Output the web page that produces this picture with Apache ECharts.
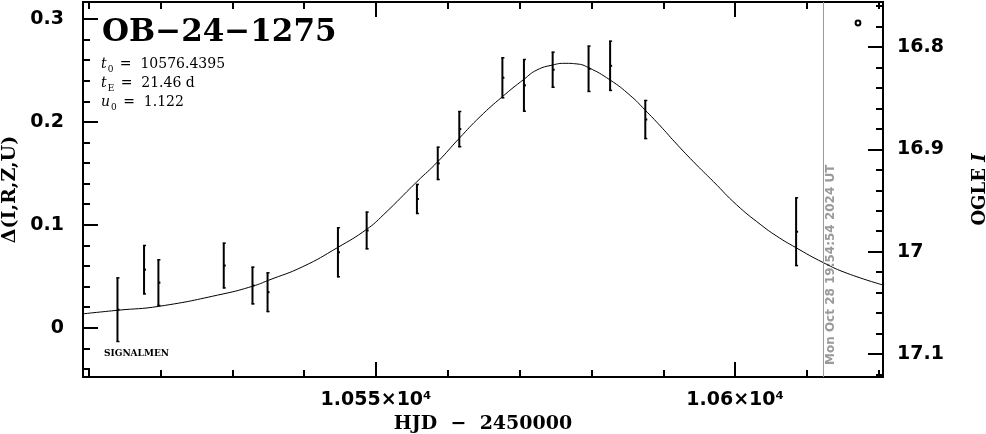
<!DOCTYPE html>
<html><head><meta charset="utf-8">
<script src="https://cdn.jsdelivr.net/npm/echarts@6/dist/echarts.min.js"></script>
<style>html,body{margin:0;padding:0;background:#fff}#c{width:986px;height:434px}</style>
</head><body><div id="c"></div>
<script>
// ---- data ----
const obsHJD   = [10514.0, 10517.7, 10519.7, 10528.8, 10532.8, 10534.9, 10544.7, 10548.7, 10555.7, 10558.6, 10561.6, 10567.6, 10570.6, 10574.6, 10579.6, 10582.6, 10587.5, 10608.5];
const obsDelta = [0.0175, 0.0564, 0.0438, 0.0604, 0.0410, 0.0345, 0.0733, 0.0945, 0.1251, 0.1597, 0.1930, 0.2429, 0.2355, 0.2507, 0.2516, 0.2545, 0.2023, 0.0933];
const obsErr   = [0.0314, 0.0240, 0.0227, 0.0222, 0.0183, 0.0193, 0.0243, 0.0183, 0.0146, 0.0162, 0.0176, 0.0199, 0.0256, 0.0175, 0.0225, 0.0244, 0.0190, 0.0334];

const modelHJD   = [10509.2, 10514.1, 10519.8, 10528.7, 10532.9, 10535.0, 10539.8, 10544.7, 10548.7, 10551.0, 10555.7, 10558.6, 10561.6, 10564.5, 10567.6, 10570.6, 10572.4, 10574.6, 10576.3, 10578.0, 10579.6, 10582.6, 10585.4, 10587.5, 10589.6, 10591.6, 10594.2, 10597.0, 10600.2, 10603.5, 10605.8, 10608.4, 10612.3, 10615.6, 10620.6];
const modelDelta = [0.0135, 0.0170, 0.0208, 0.0328, 0.0405, 0.0460, 0.0593, 0.0781, 0.0956, 0.1095, 0.1419, 0.1613, 0.1841, 0.2051, 0.2245, 0.2414, 0.2504, 0.2553, 0.2569, 0.2563, 0.2527, 0.2407, 0.2257, 0.2113, 0.1960, 0.1805, 0.1613, 0.1419, 0.1195, 0.1005, 0.0890, 0.0781, 0.0632, 0.0529, 0.0415];

const nowHJD = 10612.33;
const nowStamp = 'Mon Oct 28 19:54:54 2024 UT';

const xMajorTicks = [10550, 10600];
const xTickLabels = ['1.055×10⁴', '1.06×10⁴'];
const xMinorTicks = [10510, 10520, 10530, 10540, 10550, 10560, 10570, 10580, 10590, 10600, 10610, 10620];

const yLeftMajor  = [0, 0.1, 0.2, 0.3];
const yLeftLabels = ['0', '0.1', '0.2', '0.3'];
const yLeftMinor  = [-0.04, -0.02, 0, 0.02, 0.04, 0.06, 0.08, 0.1, 0.12, 0.14, 0.16, 0.18, 0.2, 0.22, 0.24, 0.26, 0.28, 0.3];

const yRightMajor  = [16.8, 16.9, 17.0, 17.1];
const yRightLabels = ['16.8', '16.9', '17', '17.1'];
const yRightMinor  = [16.76, 16.78, 16.8, 16.82, 16.84, 16.86, 16.88, 16.9, 16.92, 16.94, 16.96, 16.98, 17.0, 17.02, 17.04, 17.06, 17.08, 17.1, 17.12];

const eventName = 'OB−24−1275';
const paramT0 = '10576.4395';
const paramTE = '21.46 d';
const paramU0 = '1.122';
const sourceTag = 'SIGNALMEN';

// ---- chart ----
const X_MIN = 10509.2, X_MAX = 10620.6;
const YL_MIN = -0.0479, YL_MAX = 0.3165;
const YR_MIN = 16.756, YR_MAX = 17.1225;

const lineBlack = {show: true, onZero: false, lineStyle: {color: '#000', width: 2}};
const tickFont = {fontFamily: 'DejaVu Sans', fontWeight: 'bold', fontSize: 19, color: '#000'};
function pick(vals, labels) {
  return v => { let b = 0; vals.forEach((t, i) => { if (Math.abs(t - v) < Math.abs(vals[b] - v)) b = i; }); return labels[b]; };
}
function xAx(grid, pos, ticks, len, extra) {
  return Object.assign({
    type: 'value', gridIndex: grid, position: pos, min: X_MIN, max: X_MAX,
    axisLine: lineBlack, splitLine: {show: false},
    axisTick: {show: true, inside: true, length: len, lineStyle: {color: '#000', width: 2}, customValues: ticks},
    axisLabel: {show: false}
  }, extra || {});
}
function yAx(grid, pos, min, max, inv, ticks, len, extra) {
  return Object.assign({
    type: 'value', gridIndex: grid, position: pos, min: min, max: max, inverse: inv,
    axisLine: lineBlack, splitLine: {show: false},
    axisTick: {show: true, inside: true, length: len, lineStyle: {color: '#000', width: 2}, customValues: ticks},
    axisLabel: {show: false}
  }, extra || {});
}

const chart = echarts.init(document.getElementById('c'));
const gridRect = {left: 83, right: 103, top: 2, bottom: 57, containLabel: false, outerBoundsMode: 'none'};

chart.setOption({
  animation: false,
  backgroundColor: '#fff',
  grid: [Object.assign({}, gridRect), Object.assign({}, gridRect)],
  xAxis: [
    xAx(0, 'bottom', xMajorTicks, 15, {
      axisLabel: Object.assign({show: true, margin: 14, customValues: xMajorTicks, formatter: pick(xMajorTicks, xTickLabels)}, tickFont),
      name: 'HJD  −  2450000', nameLocation: 'middle', nameGap: 37,
      nameTextStyle: {fontFamily: 'DejaVu Serif', fontWeight: 'bold', fontSize: 19, color: '#000'}
    }),
    xAx(0, 'top', xMajorTicks, 15),
    xAx(1, 'bottom', xMinorTicks, 7),
    xAx(1, 'top', xMinorTicks, 7)
  ],
  yAxis: [
    yAx(0, 'left', YL_MIN, YL_MAX, false, yLeftMajor, 15, {
      axisLabel: Object.assign({show: true, margin: 19, customValues: yLeftMajor, formatter: pick(yLeftMajor, yLeftLabels)}, tickFont),
      name: 'Δ(I,R,Z,U)', nameLocation: 'middle', nameGap: 54, nameRotate: 90,
      nameTextStyle: {fontFamily: 'DejaVu Serif', fontWeight: 'bold', fontSize: 19, color: '#000'}
    }),
    yAx(0, 'right', YR_MIN, YR_MAX, true, yRightMajor, 15, {
      axisLabel: Object.assign({show: true, margin: 14, customValues: yRightMajor, formatter: pick(yRightMajor, yRightLabels)}, tickFont),
      name: '{n|OGLE }{i|I}', nameLocation: 'middle', nameGap: 88, nameRotate: 90,
      nameTextStyle: {
        rich: {
          n: {fontFamily: 'DejaVu Serif', fontWeight: 'bold', fontSize: 18, color: '#000'},
          i: {fontFamily: 'DejaVu Serif', fontWeight: 'bold', fontStyle: 'italic', fontSize: 18, color: '#000'}
        }
      }
    }),
    yAx(1, 'left', YL_MIN, YL_MAX, false, yLeftMinor, 7),
    yAx(1, 'right', YR_MIN, YR_MAX, true, yRightMinor, 7)
  ],
  series: [
    {
      type: 'line', xAxisIndex: 0, yAxisIndex: 0,
      data: modelHJD.map((t, i) => [t, modelDelta[i]]),
      showSymbol: false, smooth: 0.5, silent: true,
      lineStyle: {color: '#000', width: 1},
      markLine: {
        silent: true, symbol: ['none', 'none'], animation: false,
        lineStyle: {color: '#9a9a9a', width: 1, type: 'solid'},
        label: {show: false},
        data: [{xAxis: nowHJD}]
      }
    },
    {
      type: 'custom', xAxisIndex: 0, yAxisIndex: 0, silent: true,
      data: obsHJD.map((t, i) => [t, obsDelta[i], obsErr[i]]),
      renderItem: function (params, api) {
        const x = api.value(0), y = api.value(1), e = api.value(2);
        const top = api.coord([x, y + e]), bot = api.coord([x, y - e]), mid = api.coord([x, y]);
        const st = {stroke: '#000', lineWidth: 2};
        const cs = {stroke: '#000', lineWidth: 1.5};
        return {type: 'group', children: [
          {type: 'line', shape: {x1: top[0], y1: top[1], x2: bot[0], y2: bot[1]}, style: st},
          {type: 'line', shape: {x1: top[0] - 1, y1: top[1] + 0.5, x2: top[0] + 2, y2: top[1] + 0.5}, style: cs},
          {type: 'line', shape: {x1: bot[0] - 1, y1: bot[1] - 0.5, x2: bot[0] + 2, y2: bot[1] - 0.5}, style: cs},
          {type: 'rect', shape: {x: mid[0], y: mid[1] - 1, width: 2, height: 2}, style: {fill: '#000'}}
        ]};
      }
    }
  ],
  graphic: [
    {type: 'text', left: 102, top: 17, style: {text: eventName, font: 'bold 31px "DejaVu Serif"', fill: '#000'}},
    {type: 'text', left: 101, top: 55, style: {
      text: '{i|t}{s|0} =  ' + paramT0 + '\n{i|t}{s|E} =  ' + paramTE + '\n{i|u}{s|0} =  ' + paramU0,
      font: '14px "DejaVu Serif"', fill: '#000', lineHeight: 19,
      rich: {
        i: {fontFamily: 'DejaVu Serif', fontStyle: 'italic', fontSize: 14, lineHeight: 19},
        s: {fontFamily: 'DejaVu Serif', fontSize: 9, lineHeight: 12, verticalAlign: 'bottom', padding: [0, 2, 0, 1]}
      }
    }},
    {type: 'text', left: 104, top: 349, style: {text: sourceTag, font: 'bold 9px "DejaVu Serif"', fill: '#000'}},
    {type: 'text', x: 825, y: 365, rotation: Math.PI / 2,
     style: {text: nowStamp, font: 'bold 12px "DejaVu Sans"', fill: '#9a9a9a', align: 'left', verticalAlign: 'top'}},
    {type: 'circle', shape: {cx: 858, cy: 23, r: 2.4}, style: {fill: 'none', stroke: '#000', lineWidth: 2}}
  ]
});
</script>
</body></html>
